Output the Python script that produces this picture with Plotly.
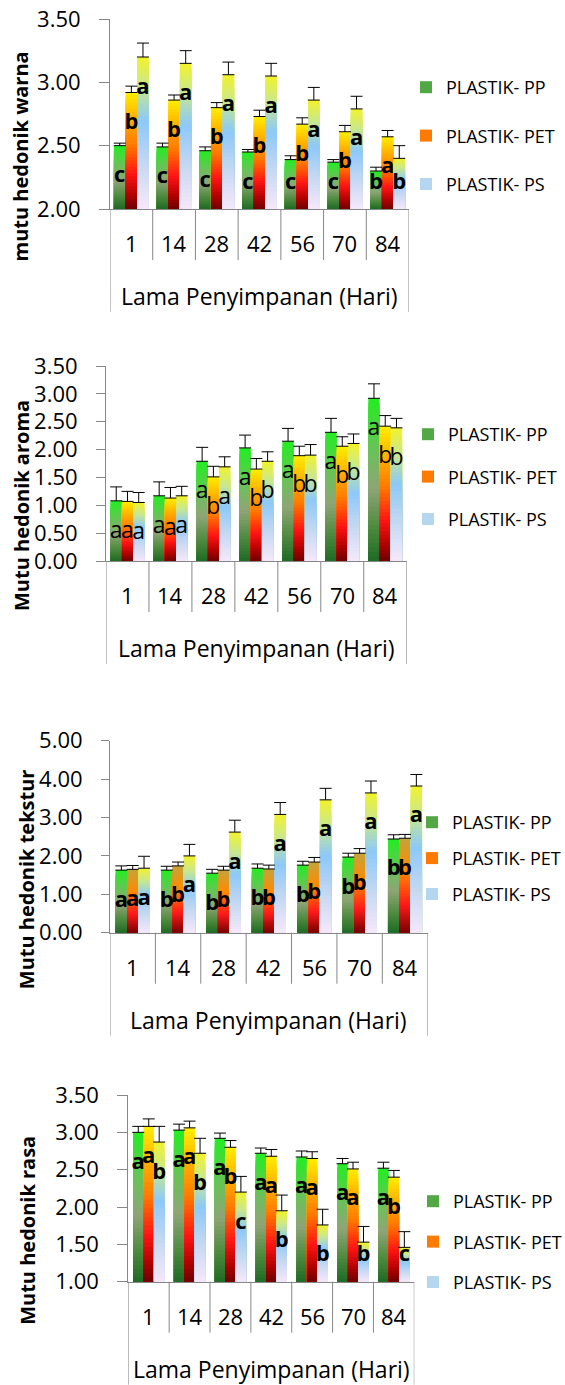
import plotly.graph_objects as go

# ---------------- data ----------------
days = ["1", "14", "28", "42", "56", "70", "84"]
series_names = ["PLASTIK- PP", "PLASTIK- PET", "PLASTIK- PS"]
x_title = "Lama Penyimpanan (Hari)"

# Warna (colour)
warna_pp = [2.50, 2.49, 2.46, 2.45, 2.39, 2.37, 2.30]
warna_pet = [2.92, 2.86, 2.80, 2.73, 2.67, 2.61, 2.57]
warna_ps = [3.20, 3.15, 3.06, 3.05, 2.86, 2.79, 2.40]
warna_pp_err = [0.02, 0.03, 0.03, 0.02, 0.03, 0.02, 0.03]
warna_pet_err = [0.05, 0.04, 0.04, 0.05, 0.05, 0.05, 0.05]
warna_ps_err = [0.11, 0.10, 0.10, 0.10, 0.10, 0.10, 0.10]
warna_pp_sig = ["c", "c", "c", "c", "c", "c", "b"]
warna_pet_sig = ["b", "b", "b", "b", "b", "b", "a"]
warna_ps_sig = ["a", "a", "a", "a", "a", "a", "b"]

# Aroma
aroma_pp = [1.08, 1.17, 1.79, 2.03, 2.15, 2.31, 2.92]
aroma_pet = [1.07, 1.13, 1.51, 1.65, 1.89, 2.06, 2.42]
aroma_ps = [1.05, 1.17, 1.69, 1.79, 1.90, 2.11, 2.39]
aroma_pp_err = [0.25, 0.25, 0.25, 0.23, 0.23, 0.25, 0.26]
aroma_pet_err = [0.18, 0.19, 0.19, 0.19, 0.17, 0.17, 0.19]
aroma_ps_err = [0.18, 0.17, 0.18, 0.17, 0.19, 0.17, 0.17]
aroma_pp_sig = ["a", "a", "a", "a", "a", "a", "a"]
aroma_pet_sig = ["a", "a", "b", "b", "b", "b", "b"]
aroma_ps_sig = ["a", "a", "a", "b", "b", "b", "b"]

# Tekstur (texture)
tekstur_pp = [1.63, 1.63, 1.55, 1.68, 1.76, 1.97, 2.44]
tekstur_pet = [1.65, 1.74, 1.63, 1.66, 1.84, 2.07, 2.46]
tekstur_ps = [1.68, 2.00, 2.62, 3.08, 3.46, 3.64, 3.82]
tekstur_pp_err = [0.11, 0.10, 0.10, 0.11, 0.10, 0.10, 0.11]
tekstur_pet_err = [0.10, 0.10, 0.10, 0.10, 0.12, 0.12, 0.10]
tekstur_ps_err = [0.31, 0.30, 0.31, 0.31, 0.30, 0.31, 0.30]
tekstur_pp_sig = ["a", "b", "b", "b", "b", "b", "b"]
tekstur_pet_sig = ["a", "b", "b", "b", "b", "b", "b"]
tekstur_ps_sig = ["a", "a", "a", "a", "a", "a", "a"]

# Rasa (taste)
rasa_pp = [3.00, 3.03, 2.92, 2.72, 2.67, 2.58, 2.52]
rasa_pet = [3.08, 3.06, 2.80, 2.68, 2.65, 2.51, 2.40]
rasa_ps = [2.87, 2.72, 2.20, 1.95, 1.76, 1.53, 1.46]
rasa_pp_err = [0.08, 0.08, 0.07, 0.07, 0.08, 0.07, 0.08]
rasa_pet_err = [0.10, 0.09, 0.09, 0.09, 0.09, 0.09, 0.09]
rasa_ps_err = [0.21, 0.20, 0.21, 0.21, 0.21, 0.21, 0.21]
rasa_pp_sig = ["a", "a", "a", "a", "a", "a", "a"]
rasa_pet_sig = ["a", "a", "b", "a", "a", "a", "b"]
rasa_ps_sig = ["b", "b", "c", "b", "b", "b", "c"]

# ---------------- styling ----------------
W, H = 565, 1385
FONT = "Open Sans"
AXIS_GRAY = "#878787"

PP_STOPS = [(0.0, "#22ee22"), (0.3, "#66c455"), (0.55, "#8fa577"), (0.8, "#4d8a3d"), (1.0, "#1e6a24")]
PET_STOPS = [(0.0, "#ffee00"), (0.25, "#ffaa00"), (0.45, "#ff7a00"), (0.7, "#ff1414"), (0.88, "#b00000"), (1.0, "#6e0000")]
PET_STOPS_T = [(0.0, "#c4a43c"), (0.35, "#ff8a00"), (0.7, "#ff1a1a"), (1.0, "#780000")]
PS_STOPS = [(0.0, "#f2f22a"), (0.2, "#c8e890"), (0.42, "#8cc8f8"), (0.7, "#c4d8f2"), (1.0, "#f6e8fa")]
LEGEND_COLORS = ["#52a844", "#ff7a00", "#b4d6ee"]


def hex2rgb(h):
    h = h.lstrip("#")
    return tuple(int(h[i:i + 2], 16) for i in (0, 2, 4))


def grad_color(stops, t):
    for (t0, c0), (t1, c1) in zip(stops[:-1], stops[1:]):
        if t <= t1:
            f = 0 if t1 == t0 else (t - t0) / (t1 - t0)
            a, b = hex2rgb(c0), hex2rgb(c1)
            return "rgb(%d,%d,%d)" % tuple(round(a[i] + (b[i] - a[i]) * f) for i in range(3))
    return stops[-1][1]


panels = [
    dict(vals=[warna_pp, warna_pet, warna_ps], errs=[warna_pp_err, warna_pet_err, warna_ps_err],
         sigs=[warna_pp_sig, warna_pet_sig, warna_ps_sig], title="mutu hedonik warna",
         yr=[2.0, 3.5], dtick=0.5, box=(110, 409, 19, 209), ticklen=10, bw=0.272,
         bold=True, stops=[PP_STOPS, PET_STOPS, PS_STOPS], title_x=20,
         leg=(406, 85, 50)),
    dict(vals=[aroma_pp, aroma_pet, aroma_ps], errs=[aroma_pp_err, aroma_pet_err, aroma_ps_err],
         sigs=[aroma_pp_sig, aroma_pet_sig, aroma_ps_sig], title="Mutu hedonik aroma",
         yr=[0.0, 3.5], dtick=0.5, box=(106, 406.7, 366, 561), ticklen=9, bw=0.262,
         bold=False, stops=[PP_STOPS, PET_STOPS, PS_STOPS], title_x=22,
         leg=(408, 432, 44)),
    dict(vals=[tekstur_pp, tekstur_pet, tekstur_ps], errs=[tekstur_pp_err, tekstur_pet_err, tekstur_ps_err],
         sigs=[tekstur_pp_sig, tekstur_pet_sig, tekstur_ps_sig], title="Mutu hedonik tekstur",
         yr=[0.0, 5.0], dtick=1.0, box=(110, 427.7, 740.7, 932.7), ticklen=8, bw=0.25,
         bold=True, stops=[PP_STOPS, PET_STOPS_T, PS_STOPS], title_x=26,
         leg=(412, 820, 37.5)),
    dict(vals=[rasa_pp, rasa_pet, rasa_ps], errs=[rasa_pp_err, rasa_pet_err, rasa_ps_err],
         sigs=[rasa_pp_sig, rasa_pet_sig, rasa_ps_sig], title="Mutu hedonik rasa",
         yr=[1.0, 3.5], dtick=0.5, box=(128.3, 414.3, 1095, 1281.7), ticklen=10, bw=0.256,
         bold=True, stops=[PP_STOPS, PET_STOPS, PS_STOPS], title_x=28,
         leg=(413, 1199, 42)),
]

N_SEG = 36
fig = go.Figure()
annotations = []
shapes = []
layout = {}


def py(p):  # pixel y (from top) -> paper
    return 1 - p / H


for k, P in enumerate(panels):
    sfx = "" if k == 0 else str(k + 1)
    xa, ya = "x" + sfx, "y" + sfx
    leg_id = "legend" + sfx
    x0, x1, ytop, ybot = P["box"]
    ymin, ymax = P["yr"]
    ppu = (ybot - ytop) / (ymax - ymin)
    bw = P["bw"]

    for s in range(3):
        vals, errs, sigs, stops = P["vals"][s], P["errs"][s], P["sigs"][s], P["stops"][s]
        xs = [i + (s - 1) * bw for i in range(len(days))]
        # gradient bars: tallest (top colour) first, shorter (lower colours) painted over
        bx, by, bc = [], [], []
        for i, v in enumerate(vals):
            for j in range(N_SEG):
                bx.append(xs[i])
                by.append((v - ymin) * (N_SEG - j) / N_SEG)
                bc.append(grad_color(stops, (j + 0.5) / N_SEG))
        fig.add_trace(go.Bar(x=bx, y=by, base=ymin, width=bw, marker=dict(color=bc, line=dict(width=0)),
                             xaxis=xa, yaxis=ya, showlegend=False, hoverinfo="skip"))
        # legend entry
        fig.add_trace(go.Bar(x=[xs[0]], y=[0], base=ymin, width=bw, name=series_names[s],
                             marker=dict(color=LEGEND_COLORS[s], line=dict(width=0)),
                             xaxis=xa, yaxis=ya, legend=leg_id, legendgroup=f"g{k}{s}",
                             showlegend=True, hoverinfo="skip"))
        # error bars (plus only)
        fig.add_trace(go.Scatter(x=xs, y=vals, mode="markers", marker=dict(size=1, opacity=0),
                                 error_y=dict(type="data", symmetric=False, array=errs,
                                              arrayminus=[0] * len(errs), color="black",
                                              thickness=1, width=6),
                                 xaxis=xa, yaxis=ya, showlegend=False, hoverinfo="skip"))
        # significance letters
        ly = [max(v - 31 / ppu, ymin + 26 / ppu) for v in vals]
        fig.add_trace(go.Scatter(x=xs, y=ly, mode="text", text=sigs, textposition="middle center",
                                 textfont=dict(family=FONT, size=22 if P["bold"] else 23, color="black",
                                               weight="bold" if P["bold"] else "normal"),
                                 xaxis=xa, yaxis=ya, showlegend=False, hoverinfo="skip",
                                 cliponaxis=False))

    layout["xaxis" + sfx] = dict(domain=[x0 / W, x1 / W], range=[-0.5, len(days) - 0.5], anchor=ya,
                                 showticklabels=False, ticks="", showgrid=False, zeroline=False,
                                 showline=True, linecolor=AXIS_GRAY, linewidth=1, fixedrange=True,
                                 automargin=False)
    layout["yaxis" + sfx] = dict(domain=[py(ybot), py(ytop)], range=[ymin, ymax], dtick=P["dtick"],
                                 tick0=ymin, anchor=xa, tickformat=".2f", ticks="outside",
                                 ticklen=P["ticklen"], tickcolor=AXIS_GRAY, tickwidth=1,
                                 ticklabelstandoff=14,
                                 tickfont=dict(family=FONT, size=22, color="black"),
                                 showgrid=False, zeroline=False, showline=True, linecolor=AXIS_GRAY,
                                 linewidth=1, fixedrange=True, automargin=False)

    # category labels + dividers (Excel-style multi-level axis)
    for i, d in enumerate(days):
        annotations.append(dict(x=i, y=py(ybot + 34), xref=xa, yref="paper", text=d, showarrow=False,
                                xanchor="center", yanchor="middle",
                                font=dict(family=FONT, size=22, color="black")))
    for i in range(len(days) + 1):
        outer = i in (0, len(days))
        shapes.append(dict(type="line", xref=xa, yref="paper", x0=i - 0.5, x1=i - 0.5,
                           y0=py(ybot), y1=py(min(ybot + (103 if outer else 51), H)),
                           line=dict(color=AXIS_GRAY, width=1)))
    annotations.append(dict(x=(len(days) - 1) / 2, y=py(ybot + 87), xref=xa, yref="paper", text=x_title,
                            showarrow=False, xanchor="center", yanchor="middle",
                            font=dict(family=FONT, size=23, color="black")))
    # y-axis title
    annotations.append(dict(x=P["title_x"] / W, y=py((ytop + ybot + 85) / 2), xref="paper", yref="paper",
                            text="<b>" + P["title"] + "</b>", textangle=-90, showarrow=False,
                            xanchor="center", yanchor="middle",
                            font=dict(family=FONT, size=20, color="black")))
    # legend
    lx, ly0, lsp = P["leg"]
    layout[leg_id] = dict(x=lx / W, y=py(ly0 - 16), xanchor="left", yanchor="top",
                          font=dict(family=FONT, size=18, color="black"), bgcolor="rgba(0,0,0,0)",
                          tracegroupgap=lsp - 28, traceorder="grouped", itemclick=False,
                          itemdoubleclick=False)

fig.update_layout(template="none", width=W, height=H,
                  margin=dict(l=0, r=0, t=0, b=0, pad=0, autoexpand=False), barmode="overlay",
                  plot_bgcolor="white", paper_bgcolor="white", showlegend=True,
                  annotations=annotations, shapes=shapes, **layout)
fig.write_html("out.html", config={"displayModeBar": False, "staticPlot": True},
               post_script="document.body.style.margin='0';document.body.style.overflow='hidden';")
